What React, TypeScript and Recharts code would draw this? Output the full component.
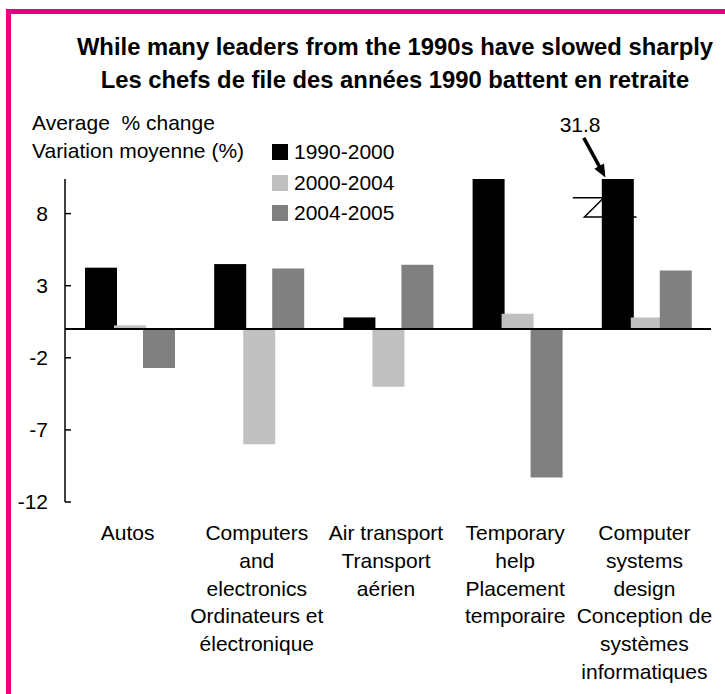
import React from "react";
import { BarChart, Bar, XAxis, YAxis, ReferenceLine, Legend } from "recharts";

const categories = [
  "Autos",
  "Computers and electronics",
  "Air transport",
  "Temporary help",
  "Computer systems design",
];
const categoryLines = [
  ["Autos"],
  ["Computers", "and", "electronics", "Ordinateurs et", "électronique"],
  ["Air transport", "Transport", "aérien"],
  ["Temporary", "help", "Placement", "temporaire"],
  ["Computer", "systems", "design", "Conception de", "systèmes", "informatiques"],
];
const series = ["1990-2000", "2000-2004", "2004-2005"];
const values1990 = [4.25, 4.5, 0.8, 10.4, 31.8];
const values2000 = [0.25, -8.0, -4.0, 1.05, 0.8];
const values2004 = [-2.7, 4.2, 4.45, -10.3, 4.05];
const yTicks = [-12, -7, -2, 3, 8];

const Y_MIN = -12;
const Y_MAX = 10.4;
const COLORS = ["#000000", "#C0C0C0", "#808080"];
const FONT = '"Liberation Sans", Arial, Helvetica, sans-serif';
const PINK = "#E6007E";

// bars above the axis top are cut off, the real value goes in the label
const data = categories.map((name, i) => ({
  name,
  raw1990: values1990[i],
  v1990: Math.min(values1990[i], Y_MAX),
  v2000: values2000[i],
  v2004: values2004[i],
}));

function BreakBar(props: any) {
  const { x, y, width, height, fill, payload } = props;
  const rect = <rect x={x} y={y} width={width} height={height} fill={fill} />;
  if (!payload || payload.raw1990 <= Y_MAX) return rect;

  const unit = height / payload.v1990;
  const zeroY = y + height;
  const at = (v: number) => zeroY - v * unit;

  const yA = at(9.1);
  const yB = at(7.76);
  const tipX = x + 3.6;
  const tipY = at(10.5);
  const tailX = x - 18;
  const tailY = at(13.25);
  const dx = tipX - tailX;
  const dy = tipY - tailY;
  const len = Math.hypot(dx, dy);
  const ux = dx / len;
  const uy = dy / len;
  const baseX = tipX - ux * 13;
  const baseY = tipY - uy * 13;
  const head = `${tipX},${tipY} ${baseX - uy * 5.5},${baseY + ux * 5.5} ${baseX + uy * 5.5},${baseY - ux * 5.5}`;

  return (
    <g>
      <path
        d={`M${x - 29},${yA} H${x + 2} L${x - 17.4},${yB} H${x + width + 2.7}`}
        fill="none"
        stroke="#000"
        strokeWidth={1.5}
      />
      {rect}
      <line x1={tailX} y1={tailY} x2={baseX + ux * 2} y2={baseY + uy * 2} stroke="#000" strokeWidth={3.5} />
      <polygon points={head} fill="#000" />
      <text
        x={x - 21.7}
        y={at(Y_MAX + 3.77)}
        dy="0.36em"
        textAnchor="middle"
        fontSize={21}
        fontFamily={FONT}
        fill="#000"
      >
        {payload.raw1990}
      </text>
    </g>
  );
}

function CategoryTick(props: any) {
  const { x, y, payload } = props;
  const lines = categoryLines[payload.index] ?? [payload.value];
  return (
    <text x={x - 2} y={y} textAnchor="middle" fill="#000" fontSize={21} fontFamily={FONT}>
      {lines.map((l: string, i: number) => (
        <tspan key={i} x={x - 2} y={y + 38 + i * 27.8}>
          {l}
        </tspan>
      ))}
    </text>
  );
}

function LegendBox(props: any) {
  const items = props.payload && props.payload.length
    ? props.payload.map((p: any) => ({ label: p.value, color: p.color }))
    : series.map((s, i) => ({ label: s, color: COLORS[i] }));
  return (
    <div style={{ fontFamily: FONT, fontSize: 21, color: "#000" }}>
      {items.map((it: any) => (
        <div key={it.label} style={{ display: "flex", alignItems: "center", height: 30.5 }}>
          <span style={{ width: 16, height: 16, background: it.color, marginRight: 6, display: "inline-block" }} />
          <span>{it.label}</span>
        </div>
      ))}
    </div>
  );
}

export default function App() {
  return (
    <div
      style={{
        position: "absolute",
        left: 0,
        top: 0,
        width: 725,
        height: 694,
        background: "#fff",
        overflow: "hidden",
        fontFamily: FONT,
        color: "#000",
      }}
    >
      <div
        style={{
          position: "absolute",
          left: 6,
          top: 9,
          width: 800,
          height: 800,
          borderLeft: `5.5px solid ${PINK}`,
          borderTop: `5px solid ${PINK}`,
        }}
      />
      <div style={{ position: "absolute", left: 0, top: 0 }}>
        <BarChart
          width={725}
          height={694}
          data={data}
          margin={{ top: 179, right: 14, bottom: 12, left: 15 }}
          barSize={32}
          barGap={-3}
        >
          <XAxis
            dataKey="name"
            axisLine={false}
            tickLine={false}
            tickSize={0}
            tickMargin={0}
            height={180}
            interval={0}
            tick={<CategoryTick />}
          />
          <YAxis
            width={50}
            domain={[Y_MIN, Y_MAX]}
            ticks={yTicks}
            axisLine={{ stroke: "#000", strokeWidth: 1.5 }}
            tickLine={{ stroke: "#000", strokeWidth: 1.5 }}
            tickSize={-6}
            tickMargin={23}
            tick={{ fill: "#000", fontSize: 21, fontFamily: FONT }}
          />
          <Legend
            layout="vertical"
            align="center"
            verticalAlign="middle"
            wrapperStyle={{ left: 272, top: 137, width: "auto" }}
            content={<LegendBox />}
          />
          <Bar dataKey="v1990" name={series[0]} fill={COLORS[0]} shape={<BreakBar />} isAnimationActive={false} />
          <Bar dataKey="v2000" name={series[1]} fill={COLORS[1]} isAnimationActive={false} />
          <Bar dataKey="v2004" name={series[2]} fill={COLORS[2]} isAnimationActive={false} />
          <ReferenceLine y={0} stroke="#000" strokeWidth={2} />
        </BarChart>
      </div>
      <div
        style={{
          position: "absolute",
          left: 35,
          top: 30,
          width: 720,
          textAlign: "center",
          fontWeight: "bold",
          fontSize: 23.8,
          lineHeight: "33.4px",
          whiteSpace: "nowrap",
        }}
      >
        <div>While many leaders from the 1990s have slowed sharply</div>
        <div>Les chefs de file des années 1990 battent en retraite</div>
      </div>
      <div
        style={{
          position: "absolute",
          left: 32,
          top: 109,
          fontSize: 21,
          lineHeight: "28.4px",
          whiteSpace: "pre",
        }}
      >
        <div>Average  % change</div>
        <div>Variation moyenne (%)</div>
      </div>
    </div>
  );
}
